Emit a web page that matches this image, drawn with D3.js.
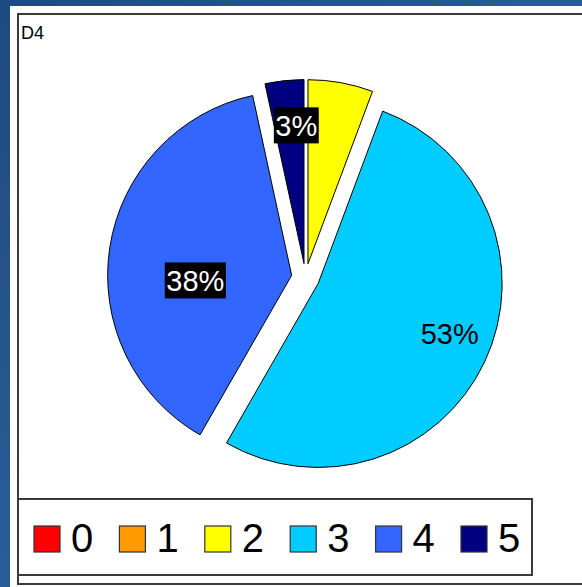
<!DOCTYPE html>
<html>
<head>
<meta charset="utf-8">
<script src="https://cdn.jsdelivr.net/npm/d3@7"></script>
<style>
  html, body { margin: 0; padding: 0; background: #22528a; }
  svg { display: block; }
</style>
</head>
<body>
<svg width="582" height="587"></svg>
<script>
// data
const categories = ["0", "1", "2", "3", "4", "5"];
const values = [0, 0, 5.7, 52.6, 38.3, 3.4];
const labels = ["", "", "", "53%", "38%", "3%"];
const colors = ["#ff0000", "#ff9900", "#ffff00", "#00ccff", "#3366ff", "#000080"];
const title = "D4";

// label placement (fraction of radius, extra nudge)
const labelK = [0.75, 0.75, 0.75, 0.76, 0.53, 0.75];
const labelDx = [0, 0, 0, 5, 0, 7];
const labelDy = [0, 0, 0, -9, 20, -1];
const darkSlice = [false, false, false, false, true, true];

const svg = d3.select("svg");
const font = "'Liberation Sans', Arial, sans-serif";

// background
const defs = svg.append("defs");
const grad = defs.append("linearGradient").attr("id", "bg")
    .attr("x1", 0).attr("y1", 0).attr("x2", 1).attr("y2", 1);
grad.append("stop").attr("offset", 0).attr("stop-color", "#1d4a80");
grad.append("stop").attr("offset", 0.5).attr("stop-color", "#2a5d96");
grad.append("stop").attr("offset", 1).attr("stop-color", "#1b4578");
svg.append("rect").attr("width", 582).attr("height", 587).attr("fill", "url(#bg)");

// white panel and frame
svg.append("rect").attr("x", 10).attr("y", 6).attr("width", 600).attr("height", 600).attr("fill", "#fff");
svg.append("rect").attr("x", 18).attr("y", 14).attr("width", 600).attr("height", 570)
    .attr("fill", "none").attr("stroke", "#3a3a3a").attr("stroke-width", 2);

svg.append("text").attr("x", 21).attr("y", 39)
    .attr("font-family", font).attr("font-size", 18).attr("fill", "#000")
    .text(title);

// pie
const cx = 305.5, cy = 277.5, r = 184, explode = 14;
const pie = d3.pie().sort(null).value(d => d.value);
const arc = d3.arc().innerRadius(0).outerRadius(r);

const rows = categories.map((c, i) => ({ cat: c, value: values[i], i: i }));
const slices = pie(rows).filter(s => s.data.value > 0);

const g = svg.append("g").attr("transform", `translate(${cx},${cy})`);

const sg = g.selectAll("g.slice")
    .data(slices)
    .enter()
    .append("g")
    .attr("class", "slice")
    .attr("transform", d => {
        const m = (d.startAngle + d.endAngle) / 2;
        return `translate(${Math.sin(m) * explode},${-Math.cos(m) * explode})`;
    });

sg.append("path")
    .attr("d", arc)
    .attr("fill", d => colors[d.data.i])
    .attr("stroke", "#000")
    .attr("stroke-width", 1);

// labels
const lab = sg.filter(d => labels[d.data.i] !== "")
    .append("g")
    .attr("transform", d => {
        const m = (d.startAngle + d.endAngle) / 2;
        const k = labelK[d.data.i] * r;
        return `translate(${Math.sin(m) * k + labelDx[d.data.i]},${-Math.cos(m) * k + labelDy[d.data.i]})`;
    });

lab.append("text")
    .attr("text-anchor", "middle")
    .attr("dy", "0.36em")
    .attr("font-family", font)
    .attr("font-size", 29)
    .attr("fill", d => darkSlice[d.data.i] ? "#fff" : "#000")
    .text(d => labels[d.data.i]);

lab.each(function(d) {
    if (!darkSlice[d.data.i]) return;
    const t = d3.select(this).select("text");
    const w = t.node().getComputedTextLength() + 3;
    d3.select(this).insert("rect", "text")
        .attr("x", -w / 2).attr("y", -18)
        .attr("width", w).attr("height", 36)
        .attr("fill", "#000");
});

// legend
svg.append("rect").attr("x", 18).attr("y", 499).attr("width", 514).attr("height", 76)
    .attr("fill", "#fff").attr("stroke", "#3a3a3a").attr("stroke-width", 2);

const legX = d3.scalePoint().domain(categories).range([34, 461]);

const li = svg.selectAll("g.leg")
    .data(categories)
    .enter()
    .append("g")
    .attr("class", "leg")
    .attr("transform", d => `translate(${legX(d)},526)`);

li.append("rect")
    .attr("width", 26).attr("height", 26)
    .attr("fill", (d, i) => colors[i])
    .attr("stroke", "#333").attr("stroke-width", 1.2);

li.append("text")
    .attr("x", 37).attr("y", 26)
    .attr("font-family", font).attr("font-size", 40).attr("fill", "#000")
    .text(d => d);
</script>
</body>
</html>
